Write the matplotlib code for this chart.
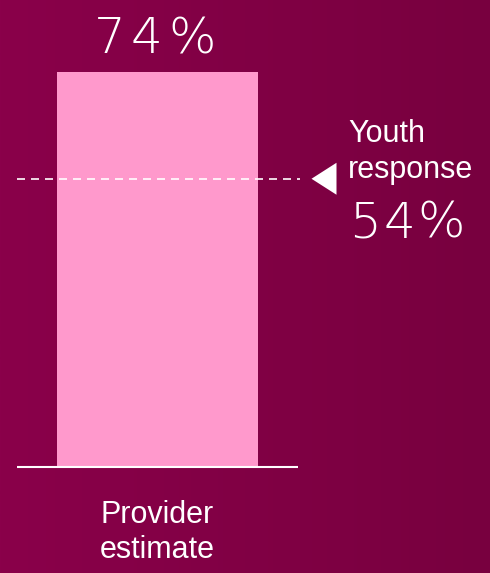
import numpy as np
import matplotlib.pyplot as plt
from matplotlib.colors import LinearSegmentedColormap

categories = ["Provider\nestimate"]
provider_values = [74]
youth_value = 54
youth_label = "Youth\nresponse"

bg_left = "#8a004a"
bg_right = "#78003f"
bar_color = "#ff99cc"

fig = plt.figure(figsize=(4.9, 5.73), dpi=100)

# background gradient
bg = fig.add_axes([0, 0, 1, 1], zorder=0)
cmap = LinearSegmentedColormap.from_list("bg", [bg_left, bg_right])
bg.imshow(np.linspace(0, 1, 256).reshape(1, -1), cmap=cmap, aspect="auto",
          extent=(0, 1, 0, 1))
bg.axis("off")

ax = fig.add_axes([0, 0, 1, 1], zorder=1)
ax.patch.set_alpha(0)
ax.axis("off")

# pixel layout: bar center 157.5 px, width 201 px, zero line at 467 px from top
px_per_x = 201
px_per_y = (467 - 72) / provider_values[0]
ax.set_xlim(-157.5 / px_per_x, (490 - 157.5) / px_per_x)
ax.set_ylim(-(573 - 467) / px_per_y, 467 / px_per_y)

def px_y(p):
    return (467 - p) / px_per_y

def px_x(p):
    return (p - 157.5) / px_per_x

x = np.arange(len(categories))
ax.bar(x, provider_values, width=1.0, color=bar_color, zorder=2)

x_left = px_x(17)
x_right = px_x(298)
ax.plot([x_left, x_right], [0, 0], color="white", lw=1.5, zorder=3,
        solid_capstyle="butt")
ax.plot([x_left, px_x(300)], [youth_value, youth_value], color="white", lw=1.2,
        dashes=(4.8, 3.6), zorder=3)

# triangle marker pointing left
tri_x = px_x(311.5)
tri_w = 25 / px_per_x
tri_h = 16 / px_per_y
ax.fill([tri_x, tri_x + tri_w, tri_x + tri_w],
        [youth_value, youth_value + tri_h, youth_value - tri_h],
        color="white", zorder=3, lw=0)

big_font = dict(family="DejaVu Sans", fontweight=200, fontsize=36,
                color="white")

def spaced(xc, yb, s, offsets):
    # wide letter spacing, one glyph at a time (offsets in pixels)
    for ch, o in zip(s, offsets):
        ax.annotate(ch, (xc, yb), xytext=(o * 72 / 100, 0),
                    textcoords="offset points", ha="center", va="baseline",
                    **big_font)

for xi, v in zip(x, provider_values):
    spaced(xi, px_y(53), f"{v}%", [-48, -11, 35])

spaced(px_x(364.5), px_y(238), f"{youth_value}%", [0, 35, 77])

lab_x = px_x(348)
for ln, b in zip(youth_label.split("\n"), [142, 178]):
    ax.text(lab_x, px_y(b), ln, ha="left", va="baseline", fontsize=22,
            color="white", family="Liberation Sans")

for xi, c in zip(x, categories):
    for ln, b in zip(c.split("\n"), [523, 558]):
        ax.text(xi, px_y(b), ln, ha="center", va="baseline", fontsize=22,
                color="white", family="Liberation Sans")

fig.savefig("out.png", dpi=100)
